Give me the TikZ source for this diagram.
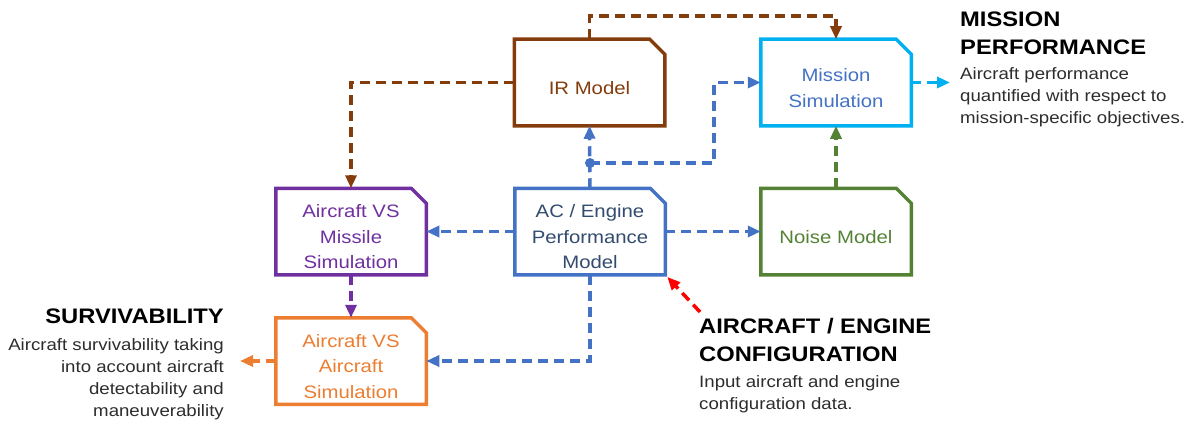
\documentclass[tikz,border=0pt]{standalone}
\usepackage{fontspec}
\setmainfont{Liberation Sans}[FakeStretch=1.13]
\usetikzlibrary{arrows.meta}

\definecolor{irbrown}{RGB}{132,60,12}
\definecolor{misscyan}{RGB}{0,176,240}
\definecolor{misstext}{RGB}{68,114,196}
\definecolor{acblue}{RGB}{68,114,196}
\definecolor{actext}{RGB}{50,75,110}
\definecolor{vspurple}{RGB}{112,48,160}
\definecolor{vsorange}{RGB}{237,125,49}
\definecolor{noisegreen}{RGB}{84,130,53}
\definecolor{desctext}{RGB}{45,45,45}

% taller first line, so the box text sits a little low
\newcommand\modeltop{\rule{0pt}{24pt}}

% box with its top right corner cut off: #1 frame colour, #2 text colour
\tikzset{model/.style 2 args={rectangle,inner sep=0pt,outer sep=1.75pt,
    minimum width=147pt,minimum height=83pt,align=center,text=#2,
    font=\fontsize{18}{25.5}\selectfont,
    append after command={\pgfextra{
      \draw [#1,line width=3.5pt]
        (\tikzlastnode.south west) -- (\tikzlastnode.north west)
        -- ([xshift=-15pt]\tikzlastnode.north east)
        -- ([yshift=-15pt]\tikzlastnode.north east)
        -- (\tikzlastnode.south east) -- cycle;}}}}

\begin{document}
\begin{tikzpicture}[x=1pt,y=-1pt,>={Triangle[length=13pt,width=11pt]}]

  \tikzstyle{head}=[inner sep=0pt,font=\bfseries\fontsize{21}{28}\selectfont]
  \tikzstyle{desc}=[inner sep=0pt,text=desctext,font=\fontsize{16.5}{22}\selectfont]

  \useasboundingbox (0,0) rectangle (1193,420);

  \node  (ir)    at (589.5,82.5)  [model={irbrown}{irbrown}]       {\modeltop IR Model};
  \node  (miss)  at (836,82.5)    [model={misscyan}{misstext}]     {\modeltop Mission\\Simulation};
  \node  (avm)   at (351,231.5)   [model={vspurple}{vspurple}]     {\modeltop Aircraft VS\\Missile\\Simulation};
  \node  (ac)    at (590,231.5)   [model={acblue}{actext}]         {\modeltop AC / Engine\\Performance\\Model};
  \node  (noise) at (836,231.5)   [model={noisegreen}{noisegreen}] {\modeltop Noise Model};
  \node  (ava)   at (351,361)     [model={vsorange}{vsorange}]     {\modeltop Aircraft VS\\Aircraft\\Simulation};

  %% outcomes and inputs
  \node  (perfhead) at (960,12)  [head,anchor=north west,align=left]  {MISSION\\PERFORMANCE};
  \node  (perfdesc) at (960,67)  [desc,anchor=north west,align=left]
         {Aircraft performance\\quantified with respect to\\mission-specific objectives.};
  \node  (survhead) at (224,309) [head,anchor=north east,align=right] {SURVIVABILITY};
  \node  (survdesc) at (224,338) [desc,anchor=north east,align=right]
         {Aircraft survivability taking\\into account aircraft\\detectability and\\maneuverability};
  \node  (cfghead)  at (699,318) [head,anchor=north west,align=left]  {AIRCRAFT / ENGINE\\CONFIGURATION};
  \node  (cfgdesc)  at (699,375) [desc,anchor=north west,align=left]
         {Input aircraft and engine\\configuration data.};

  \coordinate (split)  at (590,163);
  \coordinate (bend)   at (714,163);
  \coordinate (perfin) at (950,82.5);
  \coordinate (survin) at (240,361);
  \coordinate (cfgout) at (700,312);

  \tikzstyle{flow}=[->,line width=3.5pt,dash pattern=on 10pt off 6pt]

  \draw [flow,irbrown]    (ir.north) -- ++(0,-23) -| (miss.north);
  \draw [flow,irbrown]    (ir.west) -| (avm.north);
  \draw [flow,acblue]     (ac.north) -- (ir.south);
  \fill [acblue]          (split) circle (5pt);
  \draw [flow,acblue]     (split) -- (bend) |- (miss.west);
  \draw [flow,acblue]     (ac.west) -- (avm.east);
  \draw [flow,acblue]     (ac.east) -- (noise.west);
  \draw [flow,acblue]     (ac.south) |- (ava.east);
  \draw [flow,vspurple]   (avm.south) -- (ava.north);
  \draw [flow,noisegreen] (noise.north) -- (miss.south);
  \draw [flow,misscyan]   (miss.east) -- (perfin);
  \draw [flow,vsorange]   (ava.west) -- (survin);
  \draw [flow,red,shorten >=3pt] (cfgout) -- (ac.south east);
\end{tikzpicture}
\end{document}
